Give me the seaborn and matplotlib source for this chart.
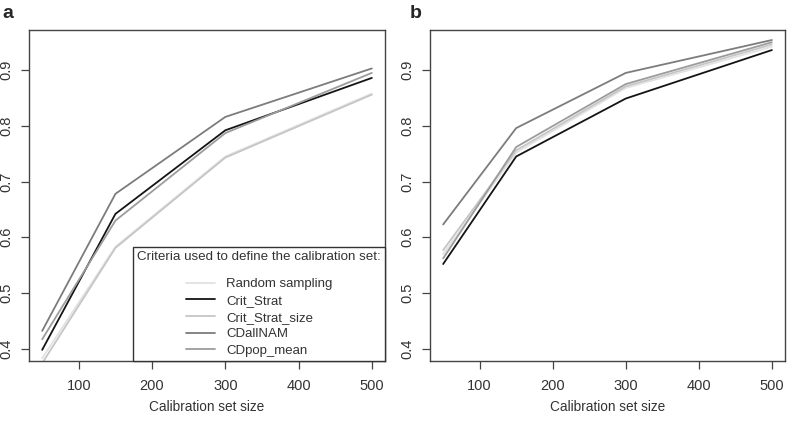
import matplotlib
matplotlib.use("Agg")
import matplotlib.pyplot as plt
import seaborn as sns
import pandas as pd

sizes = [50, 150, 300, 500]
criteria = ["Random sampling", "Crit_Strat", "Crit_Strat_size", "CDallNAM", "CDpop_mean"]

a_random = [0.383, 0.583, 0.745, 0.858]
a_crit_strat = [0.398, 0.642, 0.792, 0.886]
a_crit_strat_size = [0.374, 0.581, 0.743, 0.856]
a_cdallnam = [0.432, 0.678, 0.816, 0.903]
a_cdpop_mean = [0.417, 0.630, 0.787, 0.895]

b_random = [0.570, 0.752, 0.868, 0.942]
b_crit_strat = [0.552, 0.745, 0.849, 0.936]
b_crit_strat_size = [0.577, 0.756, 0.871, 0.946]
b_cdallnam = [0.623, 0.796, 0.895, 0.954]
b_cdpop_mean = [0.562, 0.762, 0.875, 0.950]

x_ticks = [100, 200, 300, 400, 500]
y_ticks = [0.4, 0.5, 0.6, 0.7, 0.8, 0.9]

colors = {"Random sampling": "#e2e2e2", "Crit_Strat": "#141414",
          "Crit_Strat_size": "#c6c6c6", "CDallNAM": "#7c7c7c", "CDpop_mean": "#9c9c9c"}


def make_df(series):
    rows = []
    for name, vals in zip(criteria, series):
        for s, v in zip(sizes, vals):
            rows.append({"size": s, "value": v, "criterion": name})
    return pd.DataFrame(rows)


df_a = make_df([a_random, a_crit_strat, a_crit_strat_size, a_cdallnam, a_cdpop_mean])
df_b = make_df([b_random, b_crit_strat, b_crit_strat_size, b_cdallnam, b_cdpop_mean])

sns.set_style("white")
plt.rcParams["font.family"] = ["Liberation Sans", "DejaVu Sans"]

fig = plt.figure(figsize=(7.87, 4.21), dpi=100)
W, H = 787, 421
ax_a = fig.add_axes([29 / W, 1 - 361 / H, 356 / W, 331 / H])
ax_b = fig.add_axes([430 / W, 1 - 361 / H, 355 / W, 331 / H])

for ax, df, lab in [(ax_a, df_a, "a"), (ax_b, df_b, "b")]:
    sns.lineplot(data=df, x="size", y="value", hue="criterion", hue_order=criteria,
                 palette=colors, linewidth=1.3, ax=ax, legend=(lab == "a"), sort=True)
    ax.set_xlim(32, 518)
    ax.set_ylim(0.378, 0.972)
    ax.set_xticks(x_ticks)
    ax.set_xticklabels([str(t) for t in x_ticks], fontsize=10.5, color="#333333")
    ax.set_yticks(y_ticks)
    ax.set_yticklabels([f"{t:.1f}" for t in y_ticks], fontsize=10.5, color="#333333",
                       rotation=90, va="center")
    ax.tick_params(axis="both", direction="out", length=6, width=0.9, color="#444444",
                   bottom=True, left=True)
    ax.tick_params(axis="x", pad=7)
    ax.tick_params(axis="y", pad=5)
    for sp in ax.spines.values():
        sp.set_color("#444444")
        sp.set_linewidth(1.0)
    ax.set_xlabel("Calibration set size", fontsize=9.8, color="#333333", labelpad=5)
    ax.set_ylabel("")

fig.text(2 / W, 1 - 13 / H, "a", fontsize=14, fontweight="bold", va="center", ha="left")
fig.text(410 / W, 1 - 13 / H, "b", fontsize=14, fontweight="bold", va="center", ha="left")

leg = ax_a.legend(title="Criteria used to define the calibration set:", loc="lower right",
                  bbox_to_anchor=(1.0, 0.0), borderaxespad=0.0, fontsize=9.5,
                  title_fontsize=9.6, frameon=True, fancybox=False, framealpha=1,
                  edgecolor="#333333", handlelength=2.2, handletextpad=0.9,
                  labelspacing=0.34, borderpad=0.3)
leg._legend_box.sep = 11
leg.get_frame().set_linewidth(1.0)
for t in leg.get_texts():
    t.set_color("#333333")
leg.get_title().set_color("#333333")

fig.savefig("out.png", dpi=100)
